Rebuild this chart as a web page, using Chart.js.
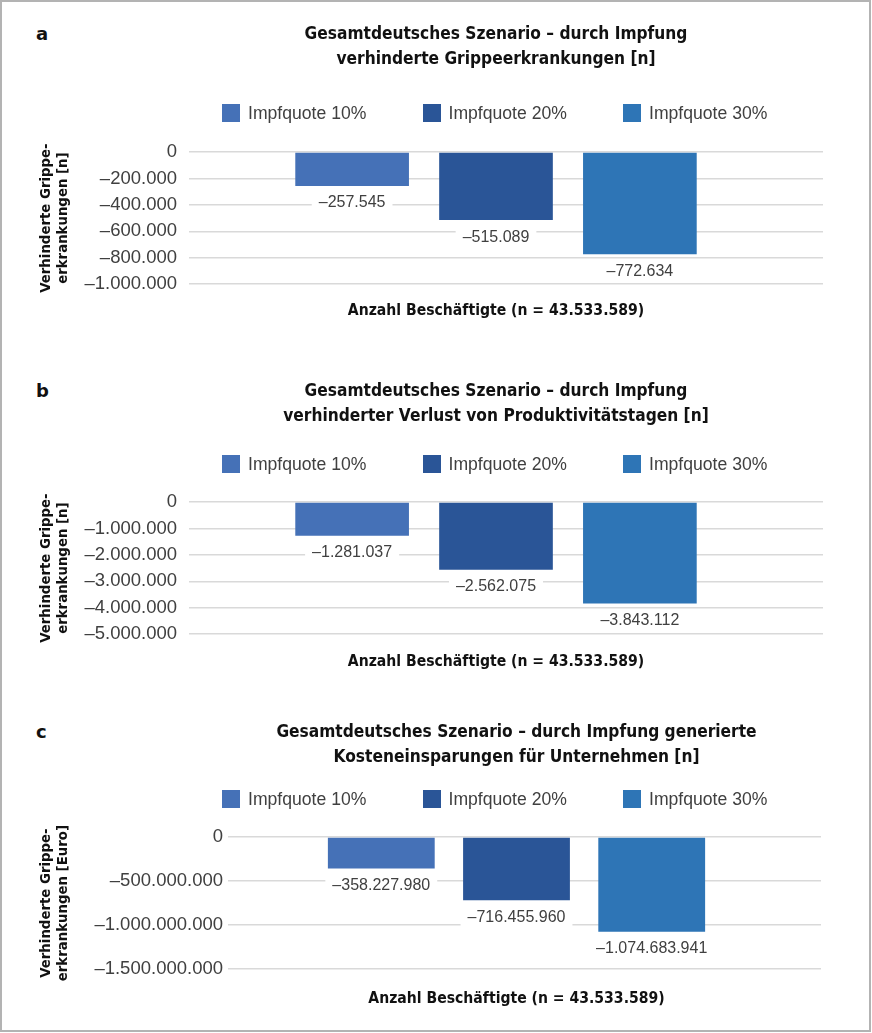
<!DOCTYPE html>
<html>
<head>
<meta charset="utf-8">
<script src="https://cdn.jsdelivr.net/npm/chart.js@4.4.1/dist/chart.umd.min.js"></script>
<style>
  html, body { margin: 0; padding: 0; background: #fff; }
  body { width: 872px; height: 1033px; position: relative; overflow: hidden; }
  #frame { position: absolute; left: 0; top: 0; width: 871px; height: 1032px; box-sizing: border-box; border: 2px solid #b3b3b3; }
  canvas { position: absolute; left: 0; }
  .letter { position: absolute; left: 36px; font: bold 18px "DejaVu Sans", sans-serif; line-height: 20px; color: #111; }
  .legend { position: absolute; left: 222px; height: 18px; display: flex; }
  .legend .item { display: flex; align-items: center; width: 200.5px; font: 17.6px "Liberation Sans", Arial, sans-serif; color: #404040; }
  .legend .box { width: 18px; height: 18px; margin-right: 8px; }
</style>
</head>
<body>
<div id="frame"></div>

<script>
// data
const categories = [''];
const seriesNames = ['Impfquote 10%', 'Impfquote 20%', 'Impfquote 30%'];
const seriesColors = ['#4571b7', '#2a5597', '#2e75b6'];
const panelLetters = ['a', 'b', 'c'];
const chartTitles = [
    ['Gesamtdeutsches Szenario – durch Impfung', 'verhinderte Grippeerkrankungen [n]'],
    ['Gesamtdeutsches Szenario – durch Impfung', 'verhinderter Verlust von Produktivitätstagen [n]'],
    ['Gesamtdeutsches Szenario – durch Impfung generierte', 'Kosteneinsparungen für Unternehmen [n]']
];
const yTitles = [
    ['Verhinderte Grippe-', 'erkrankungen [n]'],
    ['Verhinderte Grippe-', 'erkrankungen [n]'],
    ['Verhinderte Grippe-', 'erkrankungen [Euro]']
];
const xTitle = 'Anzahl Beschäftigte (n = 43.533.589)';
const valuesA = [-257545, -515089, -772634];
const valuesB = [-1281037, -2562075, -3843112];
const valuesC = [-358227980, -716455960, -1074683941];
const yMin = [-1000000, -5000000, -1500000000];
const yStep = [200000, 1000000, 500000000];

const panelValues = [valuesA, valuesB, valuesC];

// where each panel sits on the page
const layout = [
    { top: 0,   line1: 35,  legendY: 113, plotTop: 152, plotBottom: 284, xTitleY: 311, plotLeft: 189, plotRight: 803, gridEnd: 823, tickPad: 12 },
    { top: 345, line1: 392, legendY: 464, plotTop: 502, plotBottom: 634, xTitleY: 662, plotLeft: 189, plotRight: 803, gridEnd: 823, tickPad: 12 },
    { top: 690, line1: 733, legendY: 799, plotTop: 837, plotBottom: 969, xTitleY: 999, plotLeft: 228, plotRight: 805, gridEnd: 821, tickPad: 5 }
];

const condFont = '"DejaVu Sans Condensed", sans-serif';
const textFont = '"Liberation Sans", Arial, sans-serif';

const fmt = v => v === 0 ? '0' : '–' + Math.abs(v).toLocaleString('de-DE');

// value labels under the bars, on a white box that cuts the gridlines
const dataLabels = {
    id: 'dataLabels',
    afterDatasetsDraw(chart) {
        const ctx = chart.ctx;
        ctx.save();
        ctx.font = '16px ' + textFont;
        ctx.textAlign = 'center';
        ctx.textBaseline = 'middle';
        chart.data.datasets.forEach((ds, i) => {
            const bar = chart.getDatasetMeta(i).data[0];
            const text = fmt(ds.data[0]);
            const w = ctx.measureText(text).width + 14;
            const y = bar.y + 17;
            ctx.fillStyle = '#fff';
            ctx.fillRect(bar.x - w / 2, y - 11, w, 22);
            ctx.fillStyle = '#404040';
            ctx.fillText(text, bar.x, y);
        });
        ctx.restore();
    }
};

function makeLegend(L) {
    const lg = document.createElement('div');
    lg.className = 'legend';
    lg.style.top = (L.legendY - 9) + 'px';
    seriesNames.forEach((name, i) => {
        const item = document.createElement('div');
        item.className = 'item';
        const box = document.createElement('span');
        box.className = 'box';
        box.style.background = seriesColors[i];
        item.appendChild(box);
        item.appendChild(document.createTextNode(name));
        lg.appendChild(item);
    });
    document.body.appendChild(lg);
}

for (let p = 0; p < 3; p++) {
    const L = layout[p];
    const ext = L.gridEnd - L.plotRight;

    const letter = document.createElement('div');
    letter.className = 'letter';
    letter.textContent = panelLetters[p];
    letter.style.top = (L.line1 - 11) + 'px';
    document.body.appendChild(letter);

    const canvas = document.createElement('canvas');
    canvas.width = 872;
    canvas.height = Math.round(L.xTitleY + 10.8 + 6 - L.top);
    canvas.style.top = L.top + 'px';
    document.body.appendChild(canvas);

    makeLegend(L);

    new Chart(canvas, {
        type: 'bar',
        data: {
            labels: categories,
            datasets: seriesNames.map((name, i) => ({
                label: name,
                data: [panelValues[p][i]],
                backgroundColor: seriesColors[i],
                categoryPercentage: 0.703,
                barPercentage: 0.79
            }))
        },
        options: {
            responsive: false,
            animation: false,
            layout: { padding: { left: 30, right: 872 - L.gridEnd, top: 0, bottom: 6 } },
            plugins: {
                legend: { display: false },
                tooltip: { enabled: false },
                title: {
                    display: true,
                    text: chartTitles[p],
                    fullSize: false,
                    color: '#111',
                    font: { family: condFont, size: 17.2, weight: 'bold', lineHeight: 25 / 17.2 },
                    padding: { top: L.line1 - L.top - 12.5, bottom: L.plotTop - L.line1 - 37.5 }
                }
            },
            scales: {
                x: {
                    grid: { display: false, drawTicks: false },
                    border: { display: false },
                    ticks: { display: false },
                    title: {
                        display: true,
                        text: xTitle,
                        color: '#111',
                        font: { family: condFont, size: 15.6, weight: 'bold', lineHeight: 21.6 / 15.6 },
                        padding: { top: L.xTitleY - L.plotBottom - 10.8, bottom: 0 }
                    }
                },
                y: {
                    min: yMin[p],
                    max: 0,
                    ticks: {
                        stepSize: yStep[p],
                        padding: L.tickPad,
                        color: '#404040',
                        font: { family: textFont, size: 18.5 },
                        callback: v => fmt(v)
                    },
                    grid: { color: '#d9d9d9', lineWidth: 1.5, drawTicks: false },
                    border: { display: false },
                    title: {
                        display: true,
                        text: yTitles[p],
                        color: '#111',
                        font: { family: '"DejaVu Sans", sans-serif', size: 13.3, weight: 'bold', lineHeight: 17 / 13.3 },
                        padding: { top: 8.5, bottom: 0 }
                    },
                    afterFit: s => { s.width = L.plotLeft - 30; }
                },
                // right-hand twin axis, only used so the gridlines run on past the bars
                yExt: {
                    position: 'right',
                    min: yMin[p],
                    max: 0,
                    ticks: { display: false, stepSize: yStep[p] },
                    grid: { color: '#d9d9d9', lineWidth: 1.5, drawOnChartArea: false, drawTicks: true, tickLength: ext },
                    border: { display: false },
                    afterFit: s => { s.width = ext; }
                }
            }
        },
        plugins: [dataLabels]
    });
}
</script>
</body>
</html>
